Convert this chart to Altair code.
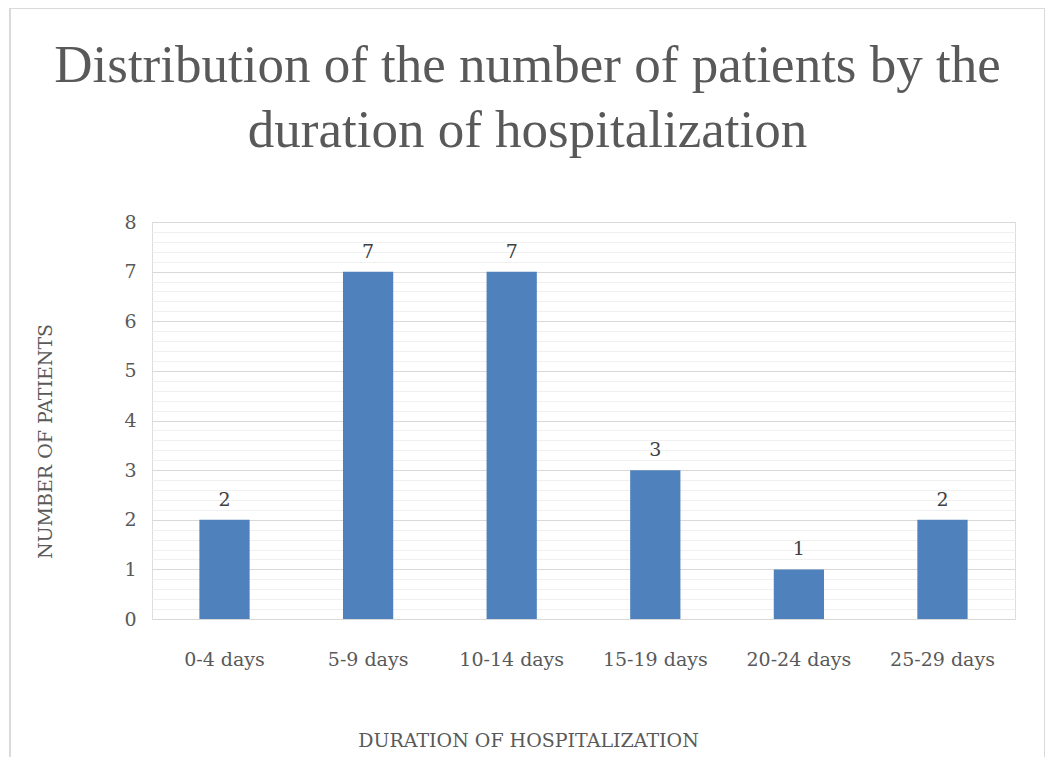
import altair as alt
import pandas as pd

categories = ["0-4 days", "5-9 days", "10-14 days", "15-19 days", "20-24 days", "25-29 days"]
patients = [2, 7, 7, 3, 1, 2]

df = pd.DataFrame({"duration": categories, "patients": patients})

tick_vals = [i / 5 for i in range(41)]
major = "abs(datum.value - round(datum.value)) < 0.001"

base = alt.Chart(df)

bars = base.mark_bar(color="#4f81bd").encode(
    x=alt.X("duration:N", sort=categories,
            scale=alt.Scale(paddingInner=0.65, paddingOuter=0.33),
            axis=alt.Axis(title="DURATION OF HOSPITALIZATION", labelAngle=0,
                          labelFont="DejaVu Serif", labelFontSize=19, labelColor="#595959",
                          labelPadding=31, ticks=False, domain=True, domainColor="#d9d9d9",
                          titleFont="DejaVu Serif", titleFontSize=19, titleFontWeight="normal",
                          titleColor="#595959", titlePadding=62, titleX=376)),
    y=alt.Y("patients:Q", scale=alt.Scale(domain=[0, 8], nice=False),
            axis=alt.Axis(title="NUMBER OF PATIENTS", values=tick_vals, tickCount=100,
                          labelExpr=f"({major}) ? format(datum.value, 'd') : ''",
                          labelFont="DejaVu Serif", labelFontSize=19, labelColor="#595959",
                          labelPadding=16, ticks=False, domain=False, labelOverlap=False,
                          gridColor=alt.condition(major, alt.value("#d9d9d9"), alt.value("#f0f0f0")),
                          gridWidth=1,
                          titleFont="DejaVu Serif", titleFontSize=19, titleFontWeight="normal",
                          titleColor="#595959", titlePadding=68, titleY=219)),
)

text = base.mark_text(dy=-20, font="DejaVu Serif", fontSize=19, color="#404040").encode(
    x=alt.X("duration:N", sort=categories),
    y="patients:Q",
    text="patients:Q",
)

border = base.mark_rect(fill=None, stroke="#d9d9d9", strokeWidth=1).encode(
    x=alt.value(-142), x2=alt.value(893), y=alt.value(-214), y2=alt.value(760)
)

chart = alt.layer(border, bars, text).properties(
    width=863, height=397,
    title=alt.TitleParams(
        text=["Distribution of the number of patients by the", "duration of hospitalization"],
        font="Liberation Serif, Times New Roman, serif", fontSize=53, fontWeight="normal",
        color="#595959",
        anchor="middle", frame="bounds", offset=-192, lineHeight=65, baseline="alphabetic",
    ),
    padding={"left": 144, "top": 214, "right": 30, "bottom": 140},
    autosize=alt.AutoSizeParams(type="none"),
).configure_view(stroke=None).configure(background="white")

chart.save("out.html", embed_options={"renderer": "svg", "actions": False})
